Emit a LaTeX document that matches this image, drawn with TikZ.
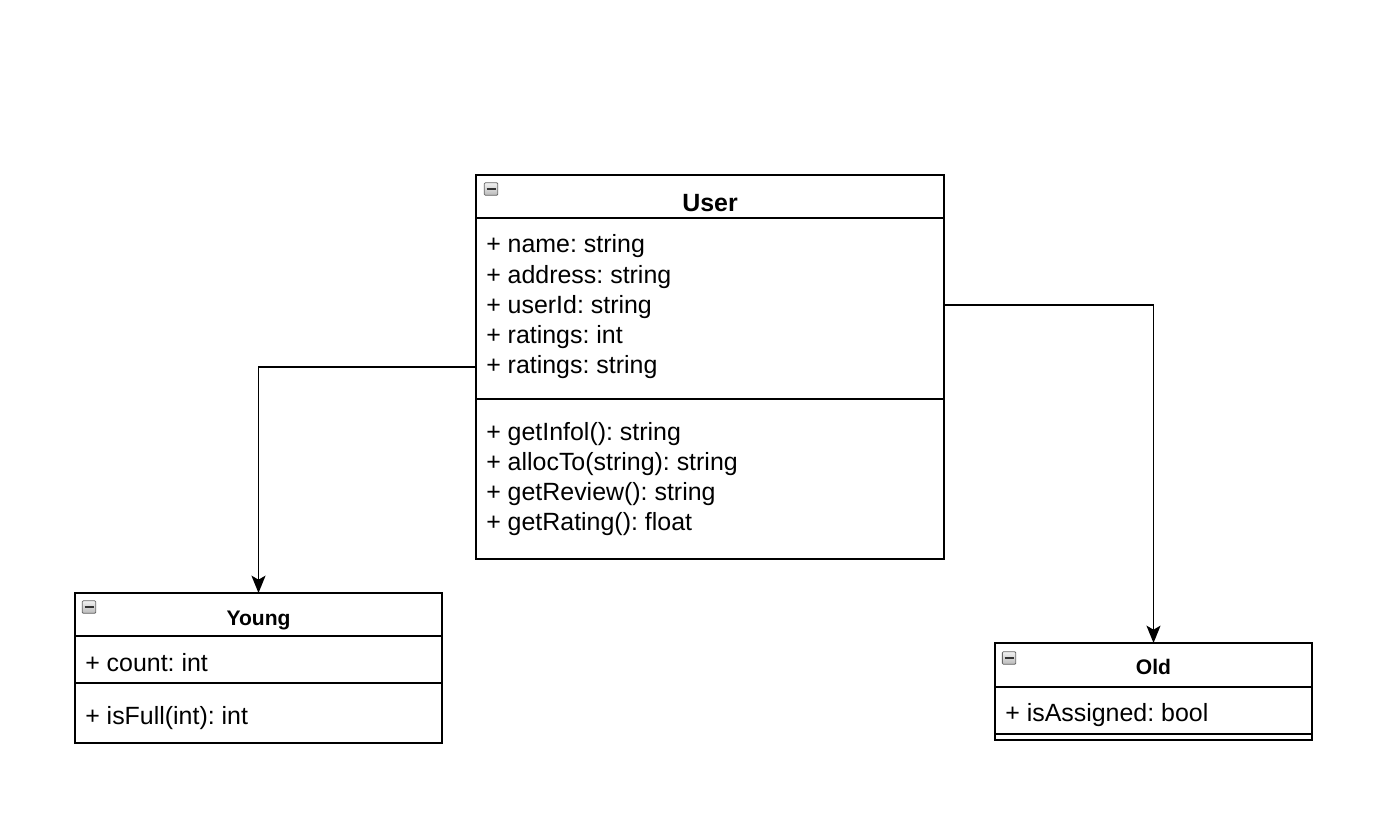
\documentclass[tikz,border=0pt]{standalone}
\usepackage{fontspec}
\setmainfont{Liberation Sans}
\usetikzlibrary{arrows.meta,calc}
\begin{document}
\frenchspacing
\begin{tikzpicture}[x=0.75pt,y=-0.75pt,
  classbox/.style={draw=black,line width=1.35pt,inner sep=0pt,outer sep=0pt},
  sepline/.style={draw=black,line width=1.35pt},
  attr/.style={anchor=base west,inner sep=0pt,font=\fontsize{18.7}{22}\selectfont},
  titlebig/.style={anchor=base,inner sep=0pt,font=\fontsize{18.7}{22}\selectfont\bfseries},
  titlesmall/.style={anchor=base,inner sep=0pt,font=\fontsize{15.8}{19}\selectfont\bfseries},
  icon/.style={draw=gray!80!black,line width=0.6pt,rounded corners=0.8pt,top color=gray!10,bottom color=gray!55,minimum width=10pt,minimum height=9.5pt,inner sep=0pt},
  conn/.style={draw=black,line width=1.35pt,-{Stealth[length=13pt,width=10.5pt,inset=3pt]}}]
\fill[white] (0,0) rectangle (1383,829);
\useasboundingbox (0,0) rectangle (1383,829);

% User class
\node[classbox,minimum width=351pt,minimum height=288pt,anchor=north west] (user) at (476,175) {};
\draw[sepline] (476,218) -- (944,218);
\draw[sepline] (476,399) -- (944,399);
\node[icon] (usericon) at (491,189) {};
\draw[line width=1.4pt,black!80] ($(usericon.center)+(-4.5,0)$) -- ($(usericon.center)+(4.5,0)$);
\node[titlebig] (usertitle) at (710,211) {User};
\node[attr] (ua1) at (486,252) {+ name: string};
\node[attr] (ua2) at (486,283) {+ address: string};
\node[attr] (ua3) at (486,313) {+ userId: string};
\node[attr] (ua4) at (486,343) {+ ratings: int};
\node[attr] (ua5) at (486,373) {+ ratings: string};
\node[attr] (um1) at (486,440) {+ getInfol(): string};
\node[attr] (um2) at (486,470) {+ allocTo(string): string};
\node[attr] (um3) at (486,500) {+ getReview(): string};
\node[attr] (um4) at (486,530) {+ getRating(): float};

% Young class
\node[classbox,minimum width=275.25pt,minimum height=112.5pt,anchor=north west] (young) at (75,593) {};
\draw[sepline] (75,636) -- (442,636);
\draw[sepline] (75,683) -- (442,683);
\node[icon] (youngicon) at (89,607) {};
\draw[line width=1.4pt,black!80] ($(youngicon.center)+(-4.5,0)$) -- ($(youngicon.center)+(4.5,0)$);
\node[titlesmall] (youngtitle) at (258.5,625.5) {Young};
\node[attr] (ya1) at (85,671) {+ count: int};
\node[attr] (ym1) at (85,724) {+ isFull(int): int};

% Old class
\node[classbox,minimum width=237.75pt,minimum height=72.75pt,anchor=north west] (old) at (995,643) {};
\draw[sepline] (995,687) -- (1312,687);
\draw[sepline] (995,734) -- (1312,734);
\node[icon] (oldicon) at (1009,658) {};
\draw[line width=1.4pt,black!80] ($(oldicon.center)+(-4.5,0)$) -- ($(oldicon.center)+(4.5,0)$);
\node[titlesmall] (oldtitle) at (1153.5,674) {Old};
\node[attr] (oa1) at (1005,721) {+ isAssigned: bool};

% connectors
\coordinate (uright) at (944,305);
\draw[conn] (user.west) -| (young.north);
\draw[conn] (uright) -| (old.north);
\end{tikzpicture}
\end{document}
